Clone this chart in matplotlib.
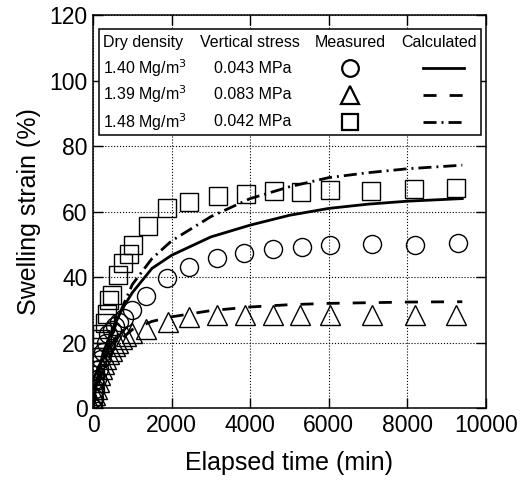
import numpy as np
import matplotlib
matplotlib.use("Agg")
import matplotlib.pyplot as plt
from matplotlib.patches import Rectangle

plt.rcParams['font.family'] = ['Liberation Sans', 'DejaVu Sans']

# measured data (min, %)
t_circ = [0, 30, 60, 100, 150, 200, 250, 320, 390, 480, 570, 670, 780, 990, 1340, 1890, 2450, 3150, 3850, 4570, 5310, 6030, 7110, 8190, 9280]
y_circ = [0, 3, 6, 9, 12, 15, 17, 20, 22.6, 24, 25, 26.2, 27.4, 30.1, 34.4, 39.6, 43.0, 46.0, 47.5, 48.5, 49.3, 49.8, 50.1, 49.9, 50.3]

t_tri = [0, 30, 60, 100, 140, 180, 230, 280, 340, 400, 470, 550, 640, 740, 850, 1000, 1350, 1900, 2430, 3150, 3870, 4590, 5280, 6030, 7100, 8190, 9250]
y_tri = [0, 2, 4, 6, 8, 10, 12, 13.5, 15, 16.5, 17.5, 19, 20, 21, 22, 23, 24.2, 26.4, 27.9, 28.4, 28.4, 28.3, 28.4, 28.4, 28.4, 28.4, 28.4]

t_sq = [0, 8, 30, 51, 94, 135, 180, 221, 300, 365, 415, 476, 645, 772, 925, 1026, 1400, 1890, 2450, 3190, 3890, 4600, 5290, 6030, 7070, 8180, 9240]
y_sq = [0, 4.5, 8.5, 11.6, 15.7, 18.7, 21, 22.8, 26, 28.9, 33, 34.5, 40.6, 44.2, 47.2, 49.8, 55.6, 61.0, 63.0, 64.7, 65.5, 66.3, 65.9, 66.6, 66.3, 66.8, 67.3]

# calculated curves
t_calc = [0, 50, 100, 250, 500, 750, 1000, 1500, 2000, 3000, 4000, 5000, 6000, 7000, 8000, 9400]
y_calc1 = [0, 4.5, 8.5, 16.8, 24.3, 30.5, 35.3, 42.7, 46.7, 52.3, 55.9, 58.9, 61.0, 62.3, 63.2, 64.0]
y_calc2 = [0, 3.2, 6, 11.5, 17.5, 21.5, 24.0, 26.5, 27.9, 29.8, 30.9, 31.6, 32.0, 32.2, 32.4, 32.5]
y_calc3 = [0, 3.2, 6, 13, 23, 31, 37.8, 45.7, 51.1, 58.5, 64.0, 67.6, 70.4, 71.9, 73.1, 74.2]

densities = ['1.40 Mg/m$^3$', '1.39 Mg/m$^3$', '1.48 Mg/m$^3$']
stresses = ['0.043 MPa', '0.083 MPa', '0.042 MPa']
markers = ['o', '^', 's']
msizes = [13, 14, 13]
styles = ['-', (0, (4.7, 4.7)), (0, (4.7, 1.8, 0.7, 1.8))]

fig = plt.figure(figsize=(5.23, 4.90), dpi=100)
ax = fig.add_axes([0.178, 0.167, 0.751, 0.802])

meas = [(t_circ, y_circ), (t_tri, y_tri), (t_sq, y_sq)]
calc = [y_calc1, y_calc2, y_calc3]
for i in range(3):
    ax.plot(meas[i][0], meas[i][1], linestyle='none', marker=markers[i], ms=msizes[i],
            mfc='none', mec='black', mew=1.0, zorder=3)
    ax.plot(t_calc, calc[i], color='black', lw=2, linestyle=styles[i], zorder=4)

ax.set_xlim(0, 10000)
ax.set_ylim(0, 120)
ax.set_xticks([0, 2000, 4000, 6000, 8000, 10000])
ax.set_yticks([0, 20, 40, 60, 80, 100, 120])
ax.grid(True, color='black', linestyle=':', linewidth=0.8)
ax.tick_params(direction='in', length=7, width=1, top=True, right=True, labelsize=16.5, pad=4)
for s in ax.spines.values():
    s.set_linewidth(1.1)
ax.set_xlabel('Elapsed time (min)', fontsize=18, labelpad=10)
ax.set_ylabel('Swelling strain (%)', fontsize=18, labelpad=6)

# legend table
tr = ax.transAxes
ax.add_patch(Rectangle((0.016, 0.695), 0.9706, 0.271, transform=tr, facecolor='white',
                       edgecolor='black', lw=1.1, zorder=5))
fs = 11.5
ax.text(0.026, 0.9295, 'Dry density', transform=tr, fontsize=fs, va='center', ha='left', zorder=6)
ax.text(0.40, 0.9295, 'Vertical stress', transform=tr, fontsize=fs, va='center', ha='center', zorder=6)
ax.text(0.655, 0.9295, 'Measured', transform=tr, fontsize=fs, va='center', ha='center', zorder=6)
ax.text(0.882, 0.9295, 'Calculated', transform=tr, fontsize=fs, va='center', ha='center', zorder=6)
rows = [0.8644, 0.798, 0.7285]
for i in range(3):
    ax.text(0.026, rows[i], densities[i], transform=tr, fontsize=fs, va='center', ha='left', zorder=6)
    ax.text(0.407, rows[i], stresses[i], transform=tr, fontsize=fs, va='center', ha='center', zorder=6)
    ax.plot([0.655], [rows[i]], transform=tr, marker=markers[i], ms=msizes[i] - 1, mfc='none',
            mec='black', mew=1.6, linestyle='none', zorder=6, clip_on=False)
    ax.plot([0.839, 0.944], [rows[i], rows[i]], transform=tr, color='black', lw=2,
            linestyle=styles[i], zorder=6, clip_on=False)

fig.savefig('out.png', dpi=100)
